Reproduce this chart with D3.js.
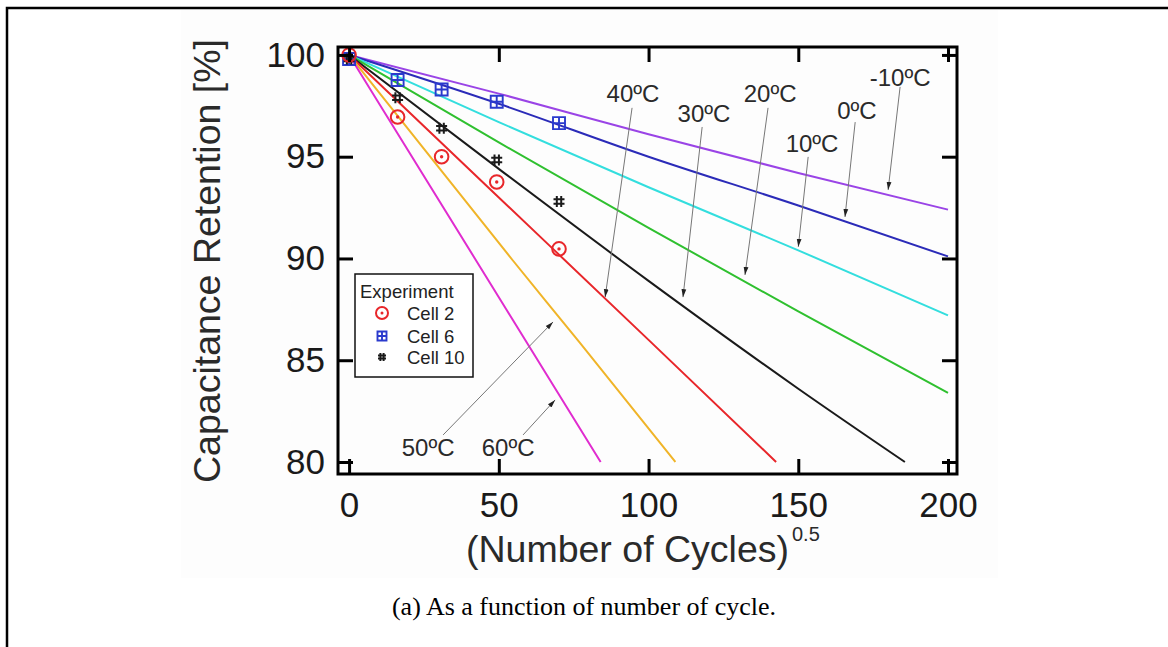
<!DOCTYPE html>
<meta charset="utf-8">
<style>
body { margin: 0; background: #fff; }
svg { display: block; }
.tick text { font-family: "Liberation Sans", Arial, sans-serif; fill: #1a1a1a; }
</style>
<svg width="1168" height="647"></svg>
<script src="https://cdn.jsdelivr.net/npm/d3@7"></script>
<script>

// fitted model lines, [sqrt(cycles), retention %]
var fitM10 = [[0, 100], [50, 98.1], [100, 96.1], [150, 94.2], [200, 92.4]];
var fit0   = [[0, 100], [50, 97.6], [100, 95.0], [150, 92.6], [200, 90.1]];
var fit10  = [[0, 100], [50, 96.7], [100, 93.5], [150, 90.4], [200, 87.2]];
var fit20  = [[0, 100], [50, 95.7], [100, 91.5], [150, 87.4], [200, 83.4]];
var fit30  = [[0, 100], [50, 94.4], [100, 88.9], [150, 83.6], [185.6, 80.0]];
var fit40  = [[0, 100], [50, 93.0], [100, 86.0], [142.6, 80.0]];
var fit50  = [[0, 100], [54.7, 89.9], [77.1, 85.85], [109, 80.0]];
var fit60  = [[0, 100], [42, 90.0], [84, 80.0]];

var tempLabels = ["-10ºC", "0ºC", "10ºC", "20ºC", "30ºC", "40ºC", "50ºC", "60ºC"];
var lineColors = ["#9a44e6", "#2b2bb8", "#33dede", "#2fc02f", "#1a1a1a", "#e8262a", "#f0b428", "#e02ccf"];

// label anchor and arrow (from -> to) in data units
var labelPos  = [[184, 98.92], [169.6, 97.3], [154.6, 95.68], [140.6, 98.13], [118.5, 97.15], [94.8, 98.13], [26.4, 80.74], [53.1, 80.74]];
var arrowFrom = [[184, 98.43], [169, 96.7], [153.3, 94.99], [139.9, 97.4], [117.9, 96.46], [94.5, 97.4], [31.4, 81.33], [58.1, 81.33]];
var arrowTo   = [[180, 93.37], [165.6, 92.04], [150, 90.57], [132.2, 89.19], [111.5, 88.1], [85.5, 88.1], [68.1, 86.88], [68.8, 83.05]];

// experiment
var cycleX = [0, 16.2, 30.9, 49.3, 70.1];
var cell2  = [100, 96.95, 95.0, 93.76, 90.47];
var cell6  = [99.8, 98.77, 98.3, 97.7, 96.65];
var cell10 = [99.8, 97.9, 96.4, 94.84, 92.8];

var xTicks = [0, 50, 100, 150, 200];
var yTicks = [80, 85, 90, 95, 100];

var svg = d3.select("svg");
var font = '"Liberation Sans", Arial, sans-serif';

// page frame and picture background
svg.append("rect").attr("x", 181).attr("y", 10).attr("width", 817).attr("height", 568).attr("fill", "#fdfdfd");
svg.append("path").attr("d", "M7,1200 V8 H1200").attr("fill", "none").attr("stroke", "#000").attr("stroke-width", 2.5);

var x = d3.scaleLinear().domain([-3.7, 203]).range([338, 957]);
var y = d3.scaleLinear().domain([79.41, 100.39]).range([474, 47]);

var line = d3.line()
    .x(function(d) { return x(d[0]); })
    .y(function(d) { return y(d[1]); })
    .curve(d3.curveMonotoneX);

var fits = [fitM10, fit0, fit10, fit20, fit30, fit40, fit50, fit60];

svg.append("g")
  .selectAll("path")
  .data(fits)
  .enter().append("path")
    .attr("d", line)
    .attr("fill", "none")
    .attr("stroke", function(d, i) { return lineColors[i]; })
    .attr("stroke-width", 2);

// annotation arrows
svg.append("defs").append("marker")
    .attr("id", "arr")
    .attr("viewBox", "0 0 10 10")
    .attr("refX", 10).attr("refY", 5)
    .attr("markerWidth", 8).attr("markerHeight", 8)
    .attr("orient", "auto")
  .append("path")
    .attr("d", "M0,2 L10,5 L0,8 Z")
    .attr("fill", "#222");

var notes = svg.append("g");
notes.selectAll("line")
  .data(tempLabels)
  .enter().append("line")
    .attr("x1", function(d, i) { return x(arrowFrom[i][0]); })
    .attr("y1", function(d, i) { return y(arrowFrom[i][1]); })
    .attr("x2", function(d, i) { return x(arrowTo[i][0]); })
    .attr("y2", function(d, i) { return y(arrowTo[i][1]); })
    .attr("stroke", "#777")
    .attr("stroke-width", 1)
    .attr("marker-end", "url(#arr)");

notes.selectAll("text")
  .data(tempLabels)
  .enter().append("text")
    .attr("x", function(d, i) { return x(labelPos[i][0]); })
    .attr("y", function(d, i) { return y(labelPos[i][1]); })
    .attr("dy", "0.36em")
    .attr("text-anchor", "middle")
    .style("font-family", font)
    .style("font-size", "24px")
    .style("fill", "#2a2a2a")
    .text(function(d) { return d; });

// markers
function cellPoints(vals) {
  return vals.map(function(v, i) { return [cycleX[i], v]; });
}

function drawCircle(g, cx, cy, r) {
  g.append("circle").attr("cx", cx).attr("cy", cy).attr("r", r)
    .attr("fill", "none").attr("stroke", "#e8262a").attr("stroke-width", 2);
  g.append("circle").attr("cx", cx).attr("cy", cy).attr("r", r * 0.25)
    .attr("fill", "#e8262a");
}

function drawSquare(g, cx, cy, s) {
  var h = s / 2;
  g.append("path")
    .attr("d", "M" + (cx - h) + "," + (cy - h) + "h" + s + "v" + s + "h" + (-s) + "Z" +
               "M" + cx + "," + (cy - h) + "v" + s + "M" + (cx - h) + "," + cy + "h" + s)
    .attr("fill", "none").attr("stroke", "#2a3acd").attr("stroke-width", 1.9);
}

function drawHash(g, cx, cy, s) {
  var h = s / 2, o = s / 5;
  g.append("path")
    .attr("d", "M" + (cx - o) + "," + (cy - h) + "v" + s +
               "M" + (cx + o) + "," + (cy - h) + "v" + s +
               "M" + (cx - h) + "," + (cy - o) + "h" + s +
               "M" + (cx - h) + "," + (cy + o) + "h" + s)
    .attr("fill", "none").attr("stroke", "#1a1a1a").attr("stroke-width", 2);
}

var marks = svg.append("g");
cellPoints(cell6).forEach(function(p) { drawSquare(marks, x(p[0]), y(p[1]), 12); });
cellPoints(cell10).forEach(function(p) { drawHash(marks, x(p[0]), y(p[1]), 11); });
cellPoints(cell2).forEach(function(p) { drawCircle(marks, x(p[0]), y(p[1]), 6.8); });

// axes, ticks inward
var xAxis = svg.append("g")
    .attr("transform", "translate(0," + y.range()[0] + ")")
    .call(d3.axisBottom(x).tickValues(xTicks).tickSize(-15).tickPadding(18));
var xTop = svg.append("g")
    .attr("transform", "translate(0," + y.range()[1] + ")")
    .call(d3.axisTop(x).tickValues(xTicks).tickSize(-15).tickFormat(""));
var yAxis = svg.append("g")
    .attr("transform", "translate(" + x.range()[0] + ",0)")
    .call(d3.axisLeft(y).tickValues(yTicks).tickSize(-15).tickPadding(13));
var yRight = svg.append("g")
    .attr("transform", "translate(" + x.range()[1] + ",0)")
    .call(d3.axisRight(y).tickValues(yTicks).tickSize(-15).tickFormat(""));

[xAxis, xTop, yAxis, yRight].forEach(function(a) {
  a.select(".domain").remove();
  a.selectAll(".tick line").attr("stroke", "#000").attr("stroke-width", 3);
  a.selectAll(".tick text").style("font-size", "35px");
});

svg.append("rect")
    .attr("x", x.range()[0]).attr("y", y.range()[1])
    .attr("width", x.range()[1] - x.range()[0])
    .attr("height", y.range()[0] - y.range()[1])
    .attr("fill", "none").attr("stroke", "#000").attr("stroke-width", 3);

// legend
var leg = svg.append("g");
leg.append("rect").attr("x", 355).attr("y", 274).attr("width", 118).attr("height", 103)
    .attr("fill", "#fff").attr("stroke", "#111").attr("stroke-width", 1.5);
leg.append("text").attr("x", 360).attr("y", 298).text("Experiment")
    .style("font-family", font).style("font-size", "18.5px").style("fill", "#222");
var legNames = ["Cell 2", "Cell 6", "Cell 10"];
var legY = [313, 336, 357];
drawCircle(leg, 382, legY[0], 6);
drawSquare(leg, 382, legY[1], 9);
drawHash(leg, 382, legY[2], 8);
leg.selectAll("text.item")
  .data(legNames)
  .enter().append("text")
    .attr("class", "item")
    .attr("x", 407)
    .attr("y", function(d, i) { return legY[i]; })
    .attr("dy", "0.36em")
    .style("font-family", font).style("font-size", "18.5px").style("fill", "#222")
    .text(function(d) { return d; });

// axis titles
svg.append("text")
    .attr("transform", "translate(220,261) rotate(-90)")
    .attr("text-anchor", "middle")
    .style("font-family", font).style("font-size", "37.5px").style("fill", "#2a2a2a")
    .text("Capacitance Retention [%]");

svg.append("text")
    .attr("x", 466).attr("y", 562)
    .style("font-family", font).style("font-size", "37.5px").style("fill", "#2a2a2a")
    .text("(Number of Cycles)");
svg.append("text")
    .attr("x", 792).attr("y", 541)
    .style("font-family", font).style("font-size", "20px").style("fill", "#2a2a2a")
    .text("0.5");

// caption
svg.append("text")
    .attr("x", 584).attr("y", 615)
    .attr("text-anchor", "middle")
    .style("font-family", '"Liberation Serif", "Times New Roman", serif')
    .style("font-size", "26px").style("fill", "#000")
    .text("(a) As a function of number of cycle.");

</script>
